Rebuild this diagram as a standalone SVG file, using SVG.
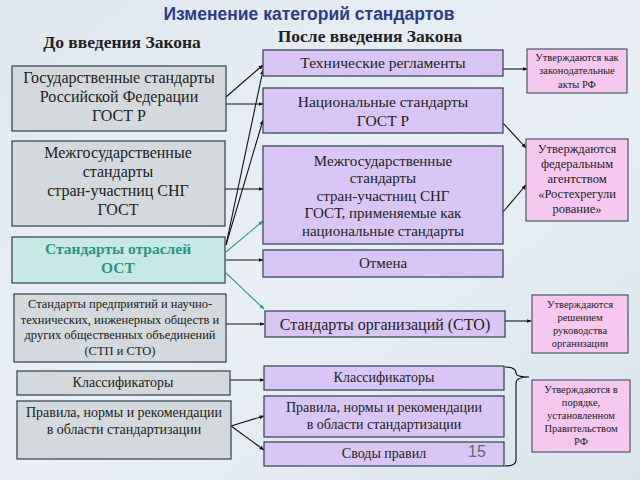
<svg xmlns="http://www.w3.org/2000/svg" width="640" height="480" viewBox="0 0 640 480">
<defs>
<linearGradient id="bg" x1="0" y1="0" x2="1" y2="1">
<stop offset="0" stop-color="#dfe7ef"/>
<stop offset="0.5" stop-color="#e9eff5"/>
<stop offset="1" stop-color="#dbe4ec"/>
</linearGradient>
<marker id="ar" viewBox="0 0 10 10" refX="9" refY="5" markerWidth="5" markerHeight="5" orient="auto" markerUnits="userSpaceOnUse">
<path d="M0,1 L10,5 L0,9 z" fill="#111"/>
</marker>
<marker id="art" viewBox="0 0 10 10" refX="9" refY="5" markerWidth="5" markerHeight="5" orient="auto" markerUnits="userSpaceOnUse">
<path d="M0,1 L10,5 L0,9 z" fill="#2a9d94"/>
</marker>
<style>
.g{fill:#d3d9dd;stroke:#3d4b5c;stroke-width:1.3}
.t{fill:#c6e9e6;stroke:#3d4b5c;stroke-width:1.3}
.p{fill:#d9c6f6;stroke:#3d4b5c;stroke-width:1.3}
.k{fill:#f6c8ef;stroke:#3d4b5c;stroke-width:1.1}
.s{font-family:'Liberation Serif',serif;fill:#222;text-anchor:middle}
.f16{font-size:16px}
.f15{font-size:15px}
.f14{font-size:14px}
.f12{font-size:12.5px}
.f11{font-size:10.5px}
.f115{font-size:12.5px}
.c line,.c path{stroke:#111;stroke-width:1.1;fill:none;marker-end:url(#ar)}
.c .tl{stroke:#2a9d94;marker-end:url(#art)}
</style>
</defs>
<rect width="640" height="480" fill="url(#bg)"/>
<text x="309" y="20" font-family="Liberation Sans" font-weight="bold" font-size="17.5" fill="#2e3a8c" text-anchor="middle">Изменение категорий стандартов</text>
<text class="s" x="122" y="48" font-weight="bold" font-size="17.5">До введения Закона</text>
<text class="s" x="370" y="42" font-weight="bold" font-size="17.5">После введения Закона</text>

<g id="connectors" class="c">
<line x1="226" y1="97" x2="263" y2="65"/>
<line x1="226" y1="104" x2="263" y2="104"/>
<line x1="226" y1="245" x2="263" y2="70"/>
<line x1="226" y1="245" x2="263" y2="120"/>
<line x1="225" y1="189" x2="263" y2="189"/>
<line class="tl" x1="226" y1="252" x2="263" y2="221"/>
<line x1="226" y1="260" x2="263" y2="260"/>
<line class="tl" x1="226" y1="273" x2="264" y2="309"/>
<line x1="226" y1="324" x2="264" y2="324"/>
<line x1="230" y1="380" x2="264" y2="380"/>
<line x1="231" y1="426" x2="264" y2="416"/>
<line x1="231" y1="426" x2="264" y2="450"/>
<line x1="503" y1="69" x2="527" y2="69"/>
<line x1="503" y1="123" x2="526" y2="148"/>
<line x1="503" y1="212" x2="526" y2="185"/>
<line x1="505" y1="321" x2="531" y2="321"/>
<path style="marker-end:none" d="M505,367 Q516,367 516,373 Q516,377 529,377 Q516,377 516,383 L516,460 Q516,466 505,466"/>
</g>

<g id="gost-r"><rect class="g" x="12" y="66" width="214" height="65"/>
<text class="s f16" x="119" y="83">Государственные стандарты</text>
<text class="s f16" x="119" y="102">Российской Федерации</text>
<text class="s f16" x="119" y="121">ГОСТ Р</text></g>

<g id="gost"><rect class="g" x="12" y="141" width="213" height="85"/>
<text class="s f16" x="118" y="158">Межгосударственные</text>
<text class="s f16" x="118" y="177">стандарты</text>
<text class="s f16" x="118" y="196">стран-участниц СНГ</text>
<text class="s f16" x="118" y="215">ГОСТ</text></g>

<g id="ost"><rect class="t" x="12" y="237" width="213" height="46"/>
<text class="s" x="118" y="254" font-size="15.5" font-weight="bold" style="fill:#2a9488">Стандарты отраслей</text>
<text class="s" x="118" y="273" font-size="15.5" font-weight="bold" style="fill:#2a9488">ОСТ</text></g>

<g id="stp"><rect class="g" x="14" y="294" width="212" height="68"/>
<text class="s f12" x="120" y="308">Стандарты предприятий и научно-</text>
<text class="s f12" x="120" y="324">технических, инженерных обществ и</text>
<text class="s f12" x="120" y="339">других общественных объединений</text>
<text class="s f12" x="120" y="355">(СТП и СТО)</text></g>

<g id="klass-old"><rect class="g" x="17" y="371" width="213" height="24"/>
<text class="s f14" x="123" y="387">Классификаторы</text></g>

<g id="pravila-old"><rect class="g" x="17" y="401" width="214" height="58"/>
<text class="s f14" x="124" y="417">Правила, нормы и рекомендации</text>
<text class="s f14" x="124" y="434">в области стандартизации</text></g>

<g id="tech-regl"><rect class="p" x="263" y="50" width="240" height="26"/>
<text class="s" x="383" y="68" font-size="15.5">Технические регламенты</text></g>

<g id="nac"><rect class="p" x="263" y="88" width="240" height="45"/>
<text class="s" x="383" y="107" font-size="15.5">Национальные стандарты</text>
<text class="s" x="383" y="126" font-size="15.5">ГОСТ Р</text></g>

<g id="mezh"><rect class="p" x="263" y="146" width="240" height="98"/>
<text class="s f15" x="383" y="166">Межгосударственные</text>
<text class="s f15" x="383" y="183">стандарты</text>
<text class="s f15" x="383" y="201">стран-участниц СНГ</text>
<text class="s f15" x="383" y="218">ГОСТ, применяемые как</text>
<text class="s f15" x="383" y="236">национальные стандарты</text></g>

<g id="otmena"><rect class="p" x="263" y="250" width="240" height="27"/>
<text class="s f15" x="383" y="268">Отмена</text></g>

<g id="sto"><rect class="p" x="265" y="311" width="240" height="26"/>
<text class="s" x="385" y="330" font-size="16">Стандарты организаций (СТО)</text></g>

<g id="klass-new"><rect class="p" x="264" y="366" width="240" height="24"/>
<text class="s f14" x="384" y="382">Классификаторы</text></g>

<g id="pravila-new"><rect class="p" x="264" y="396" width="240" height="41"/>
<text class="s f14" x="384" y="412">Правила, нормы и рекомендации</text>
<text class="s f14" x="384" y="429">в области стандартизации</text></g>

<g id="svody"><rect class="p" x="264" y="442" width="240" height="24"/>
<text class="s f14" x="384" y="458">Своды правил</text></g>

<g id="r-zakon"><rect class="k" x="527" y="49" width="100" height="44"/>
<text class="s f11" x="577" y="61">Утверждаются как</text>
<text class="s f11" x="577" y="74">законодательные</text>
<text class="s f11" x="577" y="88">акты РФ</text></g>

<g id="r-agency"><rect class="k" x="526" y="139" width="102" height="82"/>
<text class="s f115" x="577" y="153">Утверждаются</text>
<text class="s f115" x="577" y="168">федеральным</text>
<text class="s f115" x="577" y="183">агентством</text>
<text class="s f115" x="577" y="198">«Ростехрегули</text>
<text class="s f115" x="577" y="213">рование»</text></g>

<g id="r-org"><rect class="k" x="532" y="295" width="96" height="58"/>
<text class="s f11" x="580" y="308">Утверждаются</text>
<text class="s f11" x="580" y="321">решением</text>
<text class="s f11" x="580" y="334">руководства</text>
<text class="s f11" x="580" y="347">организации</text></g>

<g id="r-gov"><rect class="k" x="532" y="380" width="98" height="72"/>
<text class="s f11" x="581" y="393">Утверждаются в</text>
<text class="s f11" x="581" y="406">порядке,</text>
<text class="s f11" x="581" y="419">установленном</text>
<text class="s f11" x="581" y="432">Правительством</text>
<text class="s f11" x="581" y="445">РФ</text></g>

<text x="468" y="457" font-family="Liberation Sans" font-size="16" fill="#666">15</text>
</svg>
